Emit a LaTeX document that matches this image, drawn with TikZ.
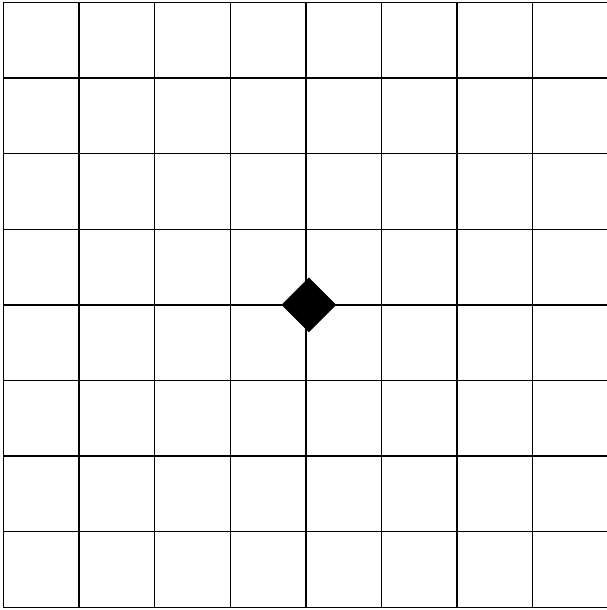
\documentclass[tikz,border=0pt]{standalone}
\usepackage{tikz}
\usetikzlibrary{shapes.geometric}

\begin{document}
\begin{tikzpicture}[
    gridline/.style={draw=black, line width=0.5pt},
    marker/.style={diamond, fill=black, draw=none, inner sep=0pt,
                   minimum width=0.73cm, minimum height=0.73cm}
]
% --- page size ---
\useasboundingbox (0,0) rectangle (8.029,8.069);

% --- board ---
\begin{scope}[shift={(0.046,0.036)}]
\foreach \i in {0,...,8} {
    \draw[gridline] (\i,0) -- (\i,8);
    \draw[gridline] (0,\i) -- (8,\i);
}
% --- centre piece ---
\node[marker] (piece) at (4.04,4.0) {};
\end{scope}

\end{tikzpicture}
\end{document}
